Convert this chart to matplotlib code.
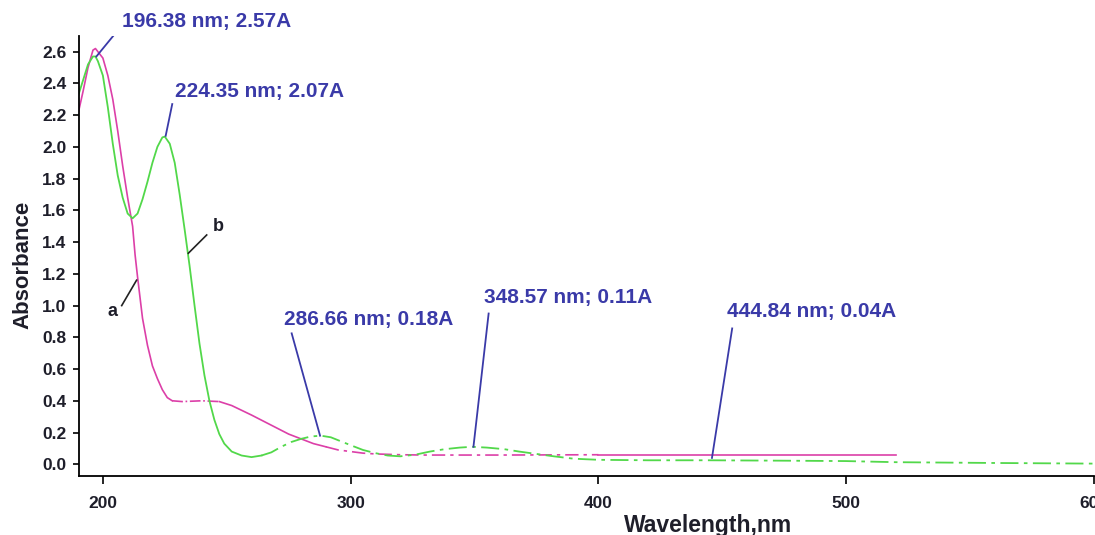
import numpy as np
import matplotlib
matplotlib.use("Agg")
import matplotlib.pyplot as plt

plt.rcParams['font.family'] = ['Liberation Sans', 'DejaVu Sans']

# curve a (magenta)
wl_a = [190, 192, 194, 196, 197, 198, 200, 202, 204, 206, 208, 210, 212, 213, 214,
        215, 216, 218, 220, 222, 224, 226, 228, 232, 240, 247, 252, 256, 260, 265,
        270, 275, 280, 285, 290, 295, 300, 305, 310, 320, 330, 360, 400, 450, 500, 520]
abs_a = [2.21, 2.35, 2.50, 2.61, 2.62, 2.60, 2.56, 2.45, 2.30, 2.10, 1.88, 1.68, 1.50, 1.32, 1.18,
         1.05, 0.92, 0.75, 0.62, 0.54, 0.47, 0.42, 0.40, 0.395, 0.40, 0.395, 0.37, 0.34, 0.31, 0.27,
         0.23, 0.19, 0.16, 0.13, 0.11, 0.09, 0.08, 0.07, 0.065, 0.06, 0.058, 0.058, 0.06, 0.06, 0.06, 0.06]

# curve b (green)
wl_b = [190, 192, 194, 196, 197, 198, 200, 202, 204, 206, 208, 210, 212, 214, 216, 218,
        220, 222, 224, 225, 227, 229, 231, 233, 235, 237, 239, 241, 243, 245, 247, 249,
        252, 256, 260, 264, 268, 272, 276, 280, 284, 288, 292, 296, 300, 305, 310, 315,
        320, 326, 332, 338, 344, 349, 355, 362, 368, 375, 382, 390, 400, 420, 445, 480,
        500, 520, 560, 600]
abs_b = [2.32, 2.42, 2.52, 2.57, 2.57, 2.54, 2.45, 2.25, 2.02, 1.82, 1.68, 1.58, 1.55, 1.58, 1.67, 1.78,
         1.90, 2.00, 2.06, 2.065, 2.02, 1.90, 1.70, 1.48, 1.25, 1.00, 0.76, 0.56, 0.40, 0.28, 0.19, 0.13,
         0.08, 0.055, 0.045, 0.055, 0.075, 0.11, 0.14, 0.16, 0.175, 0.18, 0.17, 0.145, 0.12, 0.09, 0.07, 0.055,
         0.05, 0.06, 0.08, 0.095, 0.105, 0.11, 0.105, 0.095, 0.08, 0.065, 0.05, 0.035, 0.028, 0.025, 0.025, 0.022,
         0.02, 0.013, 0.008, 0.004]

# peak labels
peak_wl = [196.38, 224.35, 286.66, 348.57, 444.84]
peak_abs = [2.57, 2.07, 0.18, 0.11, 0.04]
peak_txt = ["196.38 nm; 2.57A", "224.35 nm; 2.07A", "286.66 nm; 0.18A",
            "348.57 nm; 0.11A", "444.84 nm; 0.04A"]

x_ticks = [200, 300, 400, 500, 600]
y_ticks = [0.0, 0.2, 0.4, 0.6, 0.8, 1.0, 1.2, 1.4, 1.6, 1.8, 2.0, 2.2, 2.4, 2.6]

magenta = '#dc3fa8'
green = '#52d84a'
blue = '#3a3aa8'
dark = '#1e1e2a'

fig = plt.figure(figsize=(10.95, 5.35), dpi=100)
ax = fig.add_axes([0.072, 0.110, 0.927, 0.823])

wa = np.array(wl_a); ya = np.array(abs_a)
wb = np.array(wl_b); yb = np.array(abs_b)

def seg(w, y, lo, hi):
    m = (w >= lo) & (w <= hi)
    return w[m], y[m]

# magenta: solid with dash-dot stretches
for lo, hi, ls in [(190, 228, '-'), (228, 247, '-.'), (247, 290, '-'),
                   (290, 400, (0, (8, 3, 2, 3))), (400, 520, '-')]:
    x, y = seg(wa, ya, lo, hi)
    ax.plot(x, y, color=magenta, lw=1.2, ls=ls)

# green: solid then dash-dot
for lo, hi, ls in [(190, 264, '-'), (264, 600, (0, (10, 3, 2, 3)))]:
    x, y = seg(wb, yb, lo, hi)
    ax.plot(x, y, color=green, lw=1.3, ls=ls)

# annotation lines and texts
line_ends = [(204.2, 2.70), (228.0, 2.27), (276.2, 0.825), (355.7, 0.95), (454.0, 0.856)]
text_pos = [(207.7, 2.79), (229.1, 2.35), (273.1, 0.91), (353.9, 1.05), (452.0, 0.96)]
for i in range(len(peak_wl)):
    ax.plot([peak_wl[i] + 1, line_ends[i][0]], [peak_abs[i], line_ends[i][1]],
            color=blue, lw=1.3)
    ax.text(text_pos[i][0], text_pos[i][1], peak_txt[i], color=blue, fontsize=15,
            fontweight='bold', va='center', ha='left')

# curve labels
ax.plot([207.6, 213.6], [1.0, 1.16], color='#222222', lw=1.2)
ax.text(204, 0.96, 'a', fontsize=13, fontweight='bold', ha='center', va='center', color=dark)
ax.plot([234.5, 241.9], [1.33, 1.445], color='#222222', lw=1.2)
ax.text(246.5, 1.50, 'b', fontsize=13, fontweight='bold', ha='center', va='center', color=dark)

ax.set_xlim(190.3, 600)
ax.set_ylim(-0.075, 2.7)
ax.set_xticks(x_ticks)
ax.set_yticks(y_ticks)
ax.set_yticklabels([f"{v:.1f}" for v in y_ticks])
ax.tick_params(axis='y', length=4, width=1.2, pad=5, labelsize=12.5, labelcolor=dark)
ax.tick_params(axis='x', length=6, width=1.2, direction='out', pad=8, labelsize=12.5, labelcolor=dark)
for t in ax.get_xticklabels() + ax.get_yticklabels():
    t.set_fontweight('bold')

ax.spines['top'].set_visible(False)
ax.spines['right'].set_visible(False)
ax.spines['left'].set_linewidth(1.3)
ax.spines['bottom'].set_linewidth(1.3)

ax.set_xlabel('Wavelength,nm', fontsize=16.5, fontweight='bold', color=dark)
ax.xaxis.set_label_coords(0.62, -0.085, transform=ax.transAxes)
ax.xaxis.label.set_va('top')
ax.set_ylabel('Absorbance', fontsize=16, fontweight='bold', color=dark)
ax.yaxis.set_label_coords(-0.045, 0.48, transform=ax.transAxes)

fig.savefig('out.png', dpi=100)
